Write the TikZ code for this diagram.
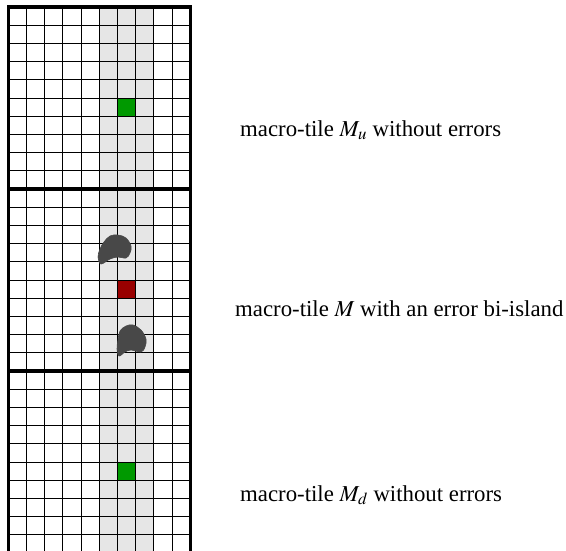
\documentclass[tikz,border=0pt]{standalone}
\usepackage{mathptmx}
\usepackage{fontspec}
\setmainfont{Liberation Serif}
\definecolor{bandgray}{RGB}{230,230,230}
\definecolor{centergreen}{RGB}{0,153,0}
\definecolor{errred}{RGB}{153,0,0}
\definecolor{blobgray}{RGB}{72,72,72}
\usetikzlibrary{positioning}

\begin{document}
\begin{tikzpicture}[
  x=1pt, y=-1pt,
  cell/.style={draw=black, line width=1pt},
  border/.style={draw=black, line width=3.2pt},
  blob/.style={fill=blobgray, draw=blobgray, line width=0.6pt},
  label/.style={anchor=base west, inner sep=0pt, font=\fontsize{22.8}{26}\selectfont}
]
\useasboundingbox (0,0) rectangle (566,550);

% grey band of three columns
\fill[bandgray] (8.3+5*18.2,7) rectangle (8.3+8*18.2,553);

% centre cells of the three macro-tiles
\fill[centergreen] (8.3+6*18.2,7+5*18.2) rectangle +(18.2,18.2);
\fill[errred] (8.3+6*18.2,189+5*18.2) rectangle +(18.2,18.2);
\fill[centergreen] (8.3+6*18.2,371+5*18.2) rectangle +(18.2,18.2);

% cells
\foreach \i in {1,...,9}
  \draw[cell] (8.3+\i*18.2,7) -- (8.3+\i*18.2,553);
\foreach \j in {1,...,29}
  \draw[cell] (8.3,7+\j*18.2) -- (190.3,7+\j*18.2);

% error bi-island
\fill[blob] plot[smooth cycle, tension=0.6] coordinates
  {(104,242) (110,236) (118,235) (126,238) (131,246) (130,253) (126,258) (118,257) (110,259) (101,264) (98,257) (100,249)};
\fill[blob] plot[smooth cycle, tension=0.6] coordinates
  {(120,331) (126,326) (133,325) (141,330) (146,339) (145,347) (141,352) (131,350) (125,352) (119,356) (117,349) (118,340)};

% macro-tile borders
\foreach \k in {0,1,2}
  \draw[border] (8.3,7+\k*182) rectangle +(182,182);

\node[label] (mu) at (240,136) {macro-tile $M_u$ without errors};
\node[label] (m) at (235,316) {macro-tile $M$ with an error bi-island};
\node[label] (md) at (240,501) {macro-tile $M_d$ without errors};
\end{tikzpicture}
\end{document}
